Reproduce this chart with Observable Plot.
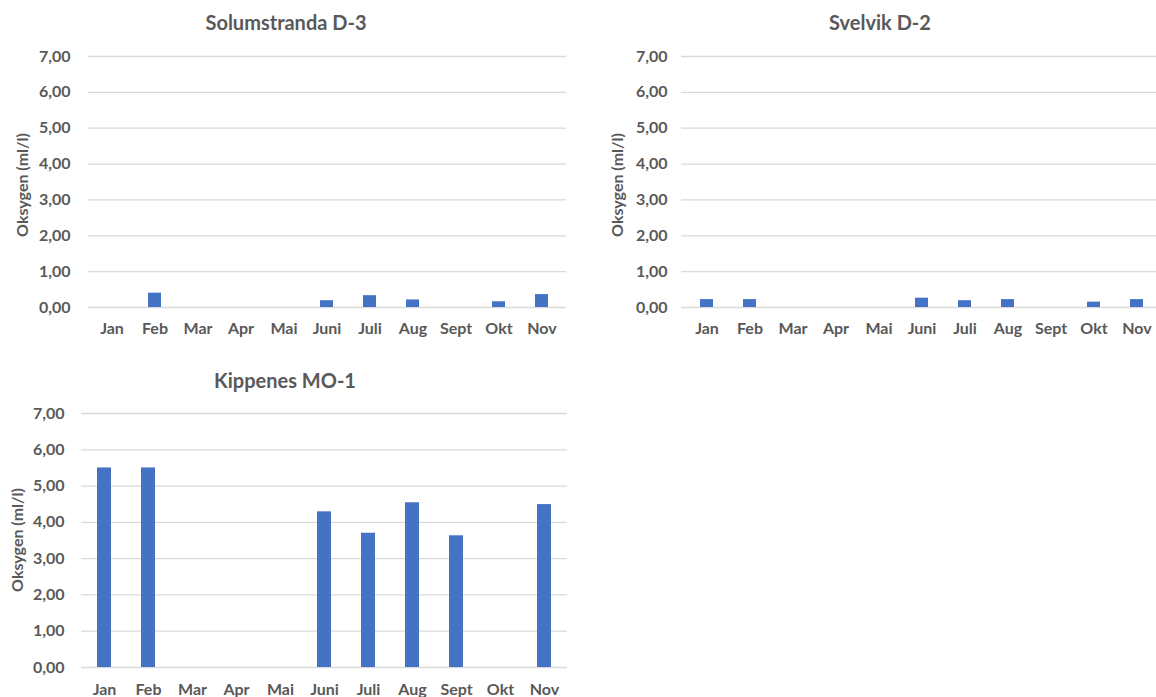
<!DOCTYPE html>
<html><head><meta charset="utf-8">
<script src="https://cdn.jsdelivr.net/npm/d3@7"></script>
<script src="https://cdn.jsdelivr.net/npm/@observablehq/plot@0.6"></script>
<style>
html,body{margin:0;padding:0;background:#fff;overflow:hidden;}
#wrap{position:relative;width:1156px;height:697px;overflow:hidden;font-family:Lato,"Open Sans",sans-serif;}
.panel{position:absolute;}
.panel svg{max-width:none !important;overflow:visible;}
.title{position:absolute;font-weight:bold;font-size:20px;color:#595959;text-align:center;white-space:nowrap;line-height:24px;}
.ylab{position:absolute;font-weight:bold;font-size:16px;color:#595959;white-space:nowrap;width:200px;text-align:center;line-height:20px;transform:rotate(-90deg);}
</style></head>
<body><div id="wrap"></div>
<script>
const months = ["Jan","Feb","Mar","Apr","Mai","Juni","Juli","Aug","Sept","Okt","Nov"];
const solumstranda = [null,0.40,null,null,null,0.19,0.33,0.21,null,0.16,0.36];
const svelvik = [0.22,0.22,null,null,null,0.26,0.19,0.22,null,0.15,0.22];
const kippenes = [5.50,5.50,null,null,null,4.29,3.70,4.54,3.63,null,4.49];
const yTicks = [0,1,2,3,4,5,6,7];
const titles = ["Solumstranda D-3","Svelvik D-2","Kippenes MO-1"];
const yLabel = "Oksygen (ml/l)";

const fmt = v => d3.format(".2f")(v).replace(".", ",");

function chart(values, opts){
  const data = months.map((m,i)=>({m, v: values[i]})).filter(d=>d.v!=null);
  return Plot.plot({
    width: opts.width, height: opts.height,
    marginLeft: opts.ml, marginRight: opts.mr, marginTop: opts.mt, marginBottom: opts.mb,
    style:{fontFamily:"Lato, 'Open Sans', sans-serif", fontWeight:"bold", fontSize:"16px", color:"#595959", background:"transparent"},
    x:{domain: months, paddingInner:0.69, paddingOuter:0.345, label:null},
    y:{domain:[0,7], label:null},
    marks:[
      Plot.ruleY(yTicks, {stroke:"#d9d9d9", strokeWidth:1.3}),
      Plot.barY(data, {x:"m", y:"v", fill:"#4472C4"}),
      Plot.axisX({tickSize:0, tickPadding:opts.xpad, fontSize:16, label:null}),
      Plot.axisY({ticks:yTicks, tickFormat:fmt, tickSize:0, tickPadding:opts.ypad, fontSize:16, label:null})
    ]
  });
}

const wrap = document.getElementById("wrap");
function place(values, title, left, top, opts, titleX, titleY, labX, labY){
  const p = document.createElement("div");
  p.className="panel"; p.style.left=left+"px"; p.style.top=top+"px";
  p.style.width=opts.width+"px"; p.style.height=opts.height+"px";
  p.appendChild(chart(values, opts));
  wrap.appendChild(p);
  const t = document.createElement("div");
  t.className="title"; t.textContent=title;
  t.style.left=(titleX-200)+"px"; t.style.width="400px"; t.style.top=(titleY-12)+"px";
  wrap.appendChild(t);
  const l = document.createElement("div");
  l.className="ylab"; l.textContent=yLabel;
  l.style.left=(labX-100)+"px"; l.style.top=(labY-10)+"px";
  wrap.appendChild(l);
}
place(solumstranda, titles[0], 0, 0, {width:580,height:345,ml:88,mr:14,mt:56,mb:38,xpad:15,ypad:18}, 286, 22, 22, 185);
place(svelvik, titles[1], 590, 0, {width:572,height:345,ml:91,mr:0,mt:56,mb:38,xpad:15,ypad:14}, 880, 22, 617, 185);
place(kippenes, titles[2], 0, 355, {width:580,height:345,ml:81,mr:13,mt:58,mb:33,xpad:16,ypad:17}, 285, 380, 17, 540);
</script></body></html>
